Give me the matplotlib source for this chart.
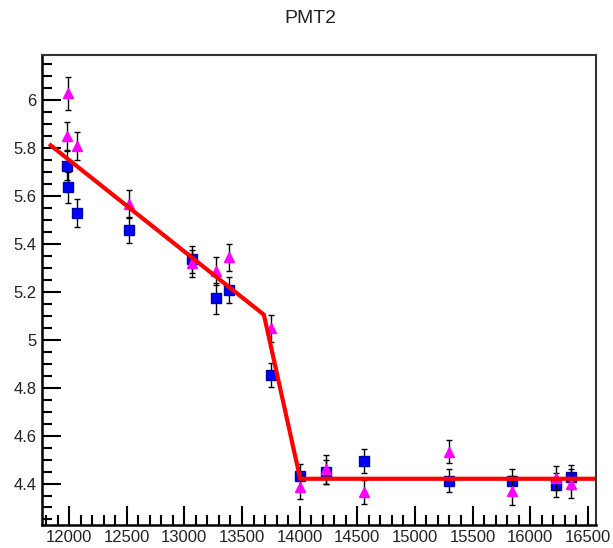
import matplotlib
matplotlib.use("Agg")
import matplotlib.pyplot as plt
from matplotlib.ticker import MultipleLocator

plt.rcParams['font.family'] = ['Liberation Sans', 'DejaVu Sans']

# run positions (same for both series)
hv = [11980, 11992, 12072, 12520, 13070, 13272, 13385, 13752, 14000, 14225, 14555, 15295, 15845, 16225, 16356]

# blue squares
pmt_a = [5.727, 5.637, 5.531, 5.458, 5.336, 5.173, 5.208, 4.853, 4.432, 4.447, 4.494, 4.412, 4.412, 4.394, 4.428]
err_a = [0.06, 0.065, 0.058, 0.053, 0.055, 0.065, 0.055, 0.05, 0.05, 0.05, 0.05, 0.047, 0.05, 0.05, 0.05]

# magenta triangles
pmt_b = [5.851, 6.029, 5.809, 5.567, 5.319, 5.287, 5.344, 5.048, 4.387, 4.460, 4.366, 4.533, 4.370, 4.422, 4.400]
err_b = [0.06, 0.068, 0.06, 0.057, 0.055, 0.06, 0.057, 0.055, 0.05, 0.06, 0.05, 0.049, 0.06, 0.05, 0.06]

# broken-line fit
fit_x = [11840, 13690, 14005, 16545]
fit_y = [5.812, 5.105, 4.42, 4.42]

fig = plt.figure(figsize=(6.13, 5.48), dpi=100)
ax = fig.add_axes([0.068, 0.042, 0.904, 0.858])

ax.errorbar(hv, pmt_a, yerr=err_a, fmt='s', color='#0000ff', mec='#0000aa',
            ms=7.5, ecolor='black', elinewidth=1.0, capsize=2, capthick=1.0, zorder=3)
ax.errorbar(hv, pmt_b, yerr=err_b, fmt='^', color='#ff00ff', mec='#ff00ff',
            ms=7, ecolor='black', elinewidth=1.0, capsize=2, capthick=1.0, zorder=4)
ax.plot(fit_x, fit_y, color='#ff0000', lw=3.0, zorder=5)

ax.set_xlim(11762, 16570)
ax.set_ylim(4.227, 6.19)
ax.xaxis.set_major_locator(MultipleLocator(500))
ax.xaxis.set_minor_locator(MultipleLocator(100))
ax.yaxis.set_major_locator(MultipleLocator(0.2))
ax.yaxis.set_minor_locator(MultipleLocator(0.05))
ax.yaxis.set_major_formatter(plt.FuncFormatter(lambda v, p: ('%.1f' % v).rstrip('0').rstrip('.')))

ax.tick_params(which='both', direction='in', top=False, right=False, width=1.5,
               labelsize=12, color='black', labelcolor='#222222')
ax.tick_params(which='major', length=14)
ax.tick_params(which='minor', length=7)
ax.tick_params(axis='x', pad=3.5)
ax.tick_params(axis='y', pad=3.5)

for side in ['left', 'bottom']:
    ax.spines[side].set_linewidth(1.8)
    ax.spines[side].set_color('black')
for side in ['top', 'right']:
    ax.spines[side].set_linewidth(1.5)
    ax.spines[side].set_color('#333333')

fig.text(0.507, 0.967, 'PMT2', ha='center', va='center', fontsize=14, color='#222222')

fig.savefig('out.png', dpi=100)
